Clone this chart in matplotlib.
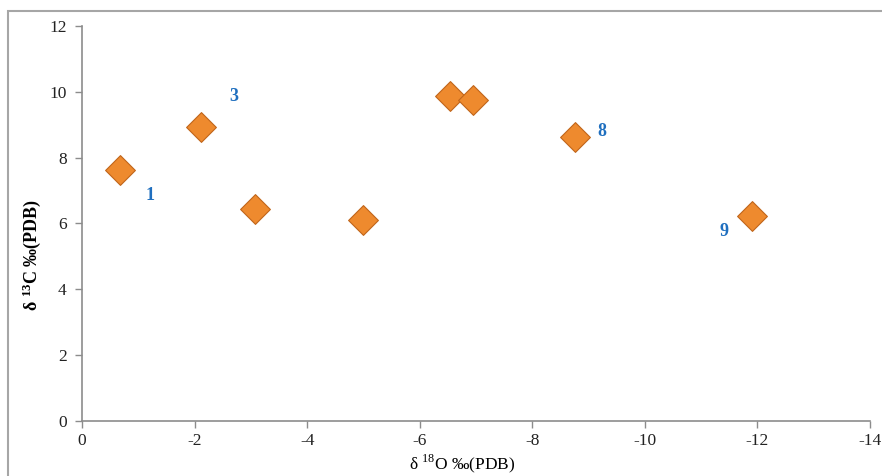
import matplotlib
matplotlib.use("Agg")
import matplotlib.pyplot as plt
from matplotlib.patches import Rectangle

plt.rcParams["font.family"] = ["Liberation Serif", "DejaVu Serif"]
plt.rcParams["mathtext.fontset"] = "custom"
plt.rcParams["mathtext.rm"] = "Liberation Serif"
plt.rcParams["mathtext.bf"] = "Liberation Serif:bold"
plt.rcParams["axes.unicode_minus"] = False

# delta 18O and delta 13C values
d18o = [-0.68, -2.11, -3.07, -5.0, -6.54, -6.95, -8.76, -11.9]
d13c = [7.62, 8.93, 6.44, 6.1, 9.88, 9.76, 8.62, 6.22]

# sample labels shown next to some points
label_text = ["1", "3", "8", "9"]
label_x = [-1.2, -2.7, -9.23, -11.4]
label_y = [6.85, 9.85, 8.8, 5.75]

GRAY = "#8c8c8c"

fig = plt.figure(figsize=(8.82, 4.76), dpi=100)
ax = fig.add_axes([82 / 882, 1 - 421 / 476, (870 - 82) / 882, (421 - 26) / 476])

ax.scatter(d18o, d13c, marker="D", s=230, color="#ee8a2e",
           edgecolor="#c0661c", linewidth=0.8, zorder=3)

for t, x, y in zip(label_text, label_x, label_y):
    ax.text(x, y, t, color="#1f6fbf", fontsize=13, fontweight="bold",
            ha="center", va="center")

ax.set_xlim(0, -14)
ax.set_ylim(0, 12)
ax.set_xticks(range(0, -15, -2))
ax.set_yticks(range(0, 13, 2))

for side in ["top", "right"]:
    ax.spines[side].set_visible(False)
for side in ["left", "bottom"]:
    ax.spines[side].set_color(GRAY)
    ax.spines[side].set_linewidth(1.2)
ax.tick_params(colors=GRAY, labelcolor="#222222", labelsize=12.5,
               direction="out", length=5, width=1)
ax.tick_params(axis="y", pad=6)

ax.set_xlabel(r"δ $^{18}$O ‰(PDB)", fontsize=12.5)
ax.set_ylabel(r"δ $\mathbf{^{13}}$C ‰(PDB)", fontsize=13, fontweight="bold")
ax.xaxis.set_label_coords((462 - 82) / (870 - 82), -(452 - 421) / (421 - 26))
ax.yaxis.set_label_coords(-(82 - 43) / (870 - 82), (421 - 255) / (421 - 26))

# chart frame, cut off at the right and bottom
fig.add_artist(Rectangle((8 / 882, -0.1), 1.2, (476 - 11) / 476 + 0.1,
                         transform=fig.transFigure, fill=False,
                         edgecolor="#a6a6a6", linewidth=1.5))

fig.savefig("out.png", dpi=100)
